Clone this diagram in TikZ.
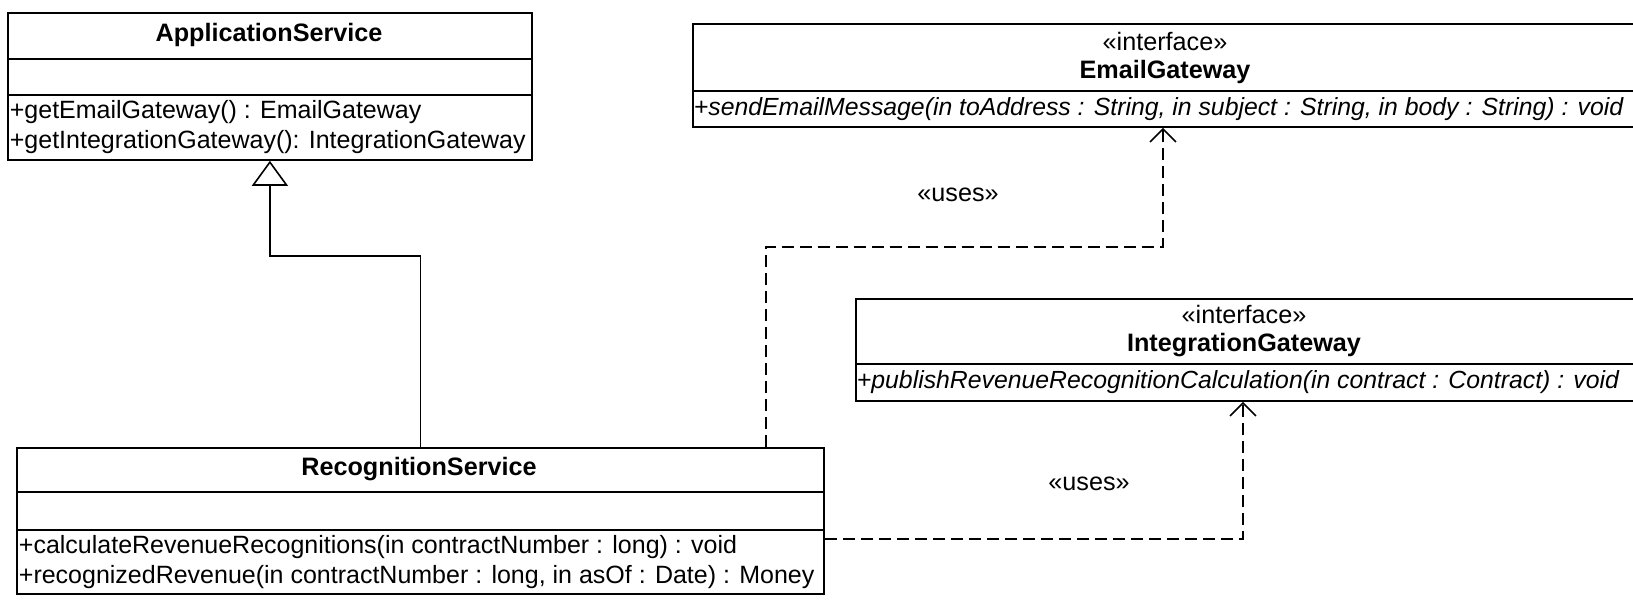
\documentclass[tikz,border=0pt]{standalone}
\usepackage{fontspec}
\setmainfont{Liberation Sans}
\usetikzlibrary{arrows.meta}

\begin{document}
\begin{tikzpicture}[x=1pt, y=-1pt, line width=1.8pt,
    classbox/.style={draw=black, rectangle, anchor=north west, inner sep=0pt},
    cname/.style={font=\fontsize{25.2}{27.5}\selectfont\bfseries, align=center, inner sep=0pt},
    ops/.style={font=\fontsize{25}{29.5}\selectfont, align=left, anchor=west, inner sep=2pt},
    absops/.style={ops, font=\fontsize{24.8}{29.5}\selectfont\itshape, inner sep=1pt},
    uses/.style={dash pattern=on 12pt off 6pt, -{Straight Barb[length=13pt, width=26pt, line width=1.6pt]}},
    usesname/.style={font=\fontsize{25.2}{27}\selectfont}]
\useasboundingbox (0,0) rectangle (1633,600);

% ApplicationService
\node[classbox, minimum width=524pt, minimum height=147pt] (app) at (7,12) {};
\draw ([yshift=-47pt]app.north west) -- ([yshift=-47pt]app.north east);
\draw ([yshift=-83pt]app.north west) -- ([yshift=-83pt]app.north east);
\node[cname] (appname) at (269,35) {ApplicationService};
\node[ops] (appops) at (7,127) {+getEmailGateway() : EmailGateway\\+getIntegrationGateway(): IntegrationGateway};

% RecognitionService
\node[classbox, minimum width=807pt, minimum height=146pt] (rec) at (16,447) {};
\draw ([yshift=-45pt]rec.north west) -- ([yshift=-45pt]rec.north east);
\draw ([yshift=-83pt]rec.north west) -- ([yshift=-83pt]rec.north east);
\node[cname] (recname) at (419,469) {RecognitionService};
\node[ops] (recops) at (16,562) {+calculateRevenueRecognitions(in contractNumber : long) : void\\+recognizedRevenue(in contractNumber : long, in asOf : Date) : Money};

% EmailGateway
\node[classbox, minimum width=946pt, minimum height=103pt] (email) at (692,23) {};
\draw ([yshift=-68pt]email.north west) -- ([yshift=-68pt]email.north east);
\node[cname] (emailname) at (1165,58) {{\mdseries «interface»}\\EmailGateway};
\node[absops] (emailops) at (692,109) {+sendEmailMessage(in toAddress : String, in subject : String, in body : String) : void};

% IntegrationGateway
\node[classbox, minimum width=778pt, minimum height=102pt] (integ) at (855,298) {};
\draw ([yshift=-66pt]integ.north west) -- ([yshift=-66pt]integ.north east);
\node[cname] (integname) at (1244,331) {{\mdseries «interface»}\\IntegrationGateway};
\node[absops] (integops) at (855,382) {+publishRevenueRecognitionCalculation(in contract : Contract) : void};

% connectors
\draw[-{Triangle[open, width=36pt, length=25pt, line width=1.6pt]}] (rec.north) -- ++(0,-191) -| (app.south);
\draw[uses] ([xshift=-59pt]rec.north east) -- ++(0,-200) -| ([xshift=471pt]email.south west);
\draw[uses] ([yshift=-18pt]rec.east) -| ([xshift=388pt]integ.south west);

\node[usesname] (uses1) at (958,195) {«uses»};
\node[usesname] (uses2) at (1089,484) {«uses»};
\end{tikzpicture}
\end{document}
